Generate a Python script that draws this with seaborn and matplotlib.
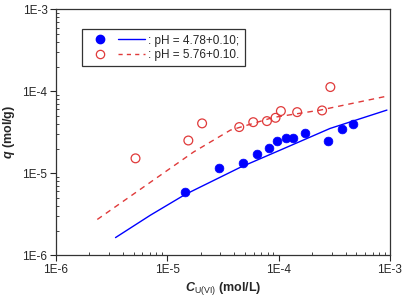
import matplotlib
matplotlib.use("Agg")
import matplotlib.pyplot as plt
import seaborn as sns
import pandas as pd
import numpy as np
from matplotlib.ticker import LogLocator, NullFormatter, FixedLocator, FixedFormatter
from matplotlib.legend_handler import HandlerTuple

# ---- data ----
blue_x = [1.45e-5, 2.92e-5, 4.77e-5, 6.4e-5, 8.13e-5, 9.72e-5, 1.156e-4, 1.36e-4, 1.72e-4, 2.79e-4, 3.72e-4, 4.67e-4]
blue_y = [5.94e-6, 1.17e-5, 1.32e-5, 1.71e-5, 2.01e-5, 2.47e-5, 2.66e-5, 2.66e-5, 3.06e-5, 2.49e-5, 3.43e-5, 3.95e-5]
red_x = [5.2e-6, 1.55e-5, 2.06e-5, 4.44e-5, 5.93e-5, 7.87e-5, 9.4e-5, 1.05e-4, 1.47e-4, 2.46e-4, 2.92e-4]
red_y = [1.52e-5, 2.51e-5, 4.06e-5, 3.66e-5, 4.2e-5, 4.33e-5, 4.75e-5, 5.74e-5, 5.57e-5, 5.84e-5, 1.127e-4]
blue_line_x = [3.44e-6, 7.08e-6, 1.45e-5, 4.53e-5, 1.03e-4, 2.9e-4, 9.4e-4]
blue_line_y = [1.64e-6, 3.08e-6, 5.5e-6, 1.18e-5, 1.91e-5, 3.52e-5, 5.9e-5]
red_line_x = [2.36e-6, 1.73e-5, 3.7e-5, 9.0e-5, 2.36e-4, 9.3e-4]
red_line_y = [2.73e-6, 1.82e-5, 3.36e-5, 4.8e-5, 5.89e-5, 8.7e-5]
tick_vals = [1e-6, 1e-5, 1e-4, 1e-3]
tick_labels = ["1E-6", "1E-5", "1E-4", "1E-3"]
labels = [": pH = 4.78+0.10;", ": pH = 5.76+0.10."]

sns.set_style("white")
plt.rcParams['font.family'] = ['Liberation Sans', 'DejaVu Sans']
plt.rcParams['mathtext.fontset'] = 'custom'
plt.rcParams['mathtext.it'] = 'Liberation Sans:italic:bold'
plt.rcParams['mathtext.rm'] = 'Liberation Sans'
plt.rcParams['mathtext.bf'] = 'Liberation Sans:bold'

fig = plt.figure(figsize=(4.07, 3.02), dpi=100)
ax = fig.add_axes([0.137, 0.155, 0.821, 0.814])

BLUE = "#0000ff"
RED = "#e03a3a"

bl = pd.DataFrame({"x": blue_line_x, "y": blue_line_y})
rl = pd.DataFrame({"x": red_line_x, "y": red_line_y})
bp = pd.DataFrame({"x": blue_x, "y": blue_y})
rp = pd.DataFrame({"x": red_x, "y": red_y})

ax.set_xscale("log")
ax.set_yscale("log")

sns.lineplot(data=bl, x="x", y="y", ax=ax, color=BLUE, lw=1.0, sort=True, estimator=None)
sns.lineplot(data=rl, x="x", y="y", ax=ax, color=RED, lw=1.0, sort=True, estimator=None, linestyle=(0, (4, 3.5)))
sns.scatterplot(data=bp, x="x", y="y", ax=ax, color=BLUE, s=40, edgecolor=BLUE, linewidth=0.5, zorder=3)
sns.scatterplot(data=rp, x="x", y="y", ax=ax, facecolor="none", edgecolor=RED, s=40, linewidth=0.9, zorder=3)

ax.set_xlim(1e-6, 1e-3)
ax.set_ylim(1e-6, 1e-3)
for axis in (ax.xaxis, ax.yaxis):
    axis.set_major_locator(FixedLocator(tick_vals))
    axis.set_major_formatter(FixedFormatter(tick_labels))
    axis.set_minor_locator(LogLocator(base=10, subs=np.arange(2, 10), numticks=20))
    axis.set_minor_formatter(NullFormatter())
ax.tick_params(which="major", direction="out", length=4, width=0.8, labelsize=8.5, bottom=True, left=True, pad=2)
ax.tick_params(which="minor", direction="in", length=2.5, width=0.6, bottom=True, left=True)
for s in ax.spines.values():
    s.set_color("#333333")
    s.set_linewidth(0.9)

ax.set_xlabel(r"$\it{C}_{\rm{U(VI)}}$ (mol/L)", fontsize=9, fontweight="bold", labelpad=3)
ax.set_ylabel(r"$\it{q}$ (mol/g)", fontsize=9, fontweight="bold", labelpad=4)

h_b_pt = plt.Line2D([], [], marker="o", color=BLUE, ls="none", ms=6)
h_b_ln = plt.Line2D([], [], color=BLUE, lw=1.0)
h_r_pt = plt.Line2D([], [], marker="o", mfc="none", mec=RED, mew=0.9, ls="none", ms=6)
h_r_ln = plt.Line2D([], [], color=RED, lw=1.0, ls=(0, (3, 3)))
leg = ax.legend([(h_b_pt, h_b_ln), (h_r_pt, h_r_ln)], labels,
                handler_map={tuple: HandlerTuple(ndivide=None, pad=0.4)},
                loc="upper left", bbox_to_anchor=(0.06, 0.943), fontsize=8.5,
                handlelength=4.9, handletextpad=0.3, borderpad=0.45, labelspacing=0.2,
                borderaxespad=0.5,
                fancybox=False, framealpha=1, edgecolor="#333333")
leg.get_frame().set_linewidth(0.9)

fig.savefig("out.png", dpi=100)
